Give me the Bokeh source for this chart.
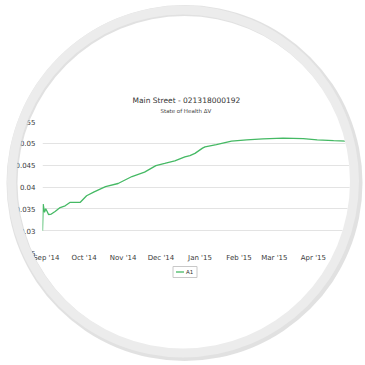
from datetime import datetime, timedelta

from bokeh.plotting import figure
from bokeh.core.properties import value
from bokeh.models import (Range1d, FixedTicker, NumeralTickFormatter, DatetimeTickFormatter,
                          MonthsTicker, Title, ColumnDataSource)
from bokeh.embed import file_html
from bokeh.resources import INLINE

# ---------------- data ----------------
dates = [
    "2014-08-29 00:00", "2014-08-29 13:00", "2014-08-30 14:00", "2014-08-31 14:00",
    "2014-09-01 17:00", "2014-09-02 19:00", "2014-09-05", "2014-09-08", "2014-09-12",
    "2014-09-16", "2014-09-20", "2014-09-28", "2014-10-03", "2014-10-09", "2014-10-18",
    "2014-10-28", "2014-11-08", "2014-11-18", "2014-11-27", "2014-12-04", "2014-12-12",
    "2014-12-20", "2014-12-24", "2014-12-28", "2015-01-03", "2015-01-05", "2015-01-14",
    "2015-01-26", "2015-02-07", "2015-02-20", "2015-03-08", "2015-03-24", "2015-04-04",
    "2015-04-17", "2015-04-27", "2015-05-10",
]
soh_dv = [
    0.0300, 0.0361, 0.0342, 0.0350,
    0.0344, 0.0337, 0.0338, 0.0344, 0.0353,
    0.0357, 0.0365, 0.0365, 0.0380, 0.0389, 0.0401,
    0.0408, 0.0424, 0.0434, 0.0449, 0.0454, 0.0460,
    0.0469, 0.0472, 0.0477, 0.0489, 0.0492, 0.0497,
    0.0505, 0.0508, 0.0510, 0.0512, 0.0511, 0.0508,
    0.0506, 0.0505, 0.0504,
]
series_name = "A1"
title_text = "Main Street - 021318000192"
subtitle_text = "State of Health \u0394V"
y_ticks = [0.025, 0.03, 0.035, 0.04, 0.045, 0.05, 0.055]
y_min, y_max = 0.025, 0.055
x_start = datetime(2014, 8, 29)
x_end = x_start + timedelta(days=256.35)

LINE_COLOR = "#45b964"
FONT = "DejaVu Sans"

src = ColumnDataSource(dict(date=[datetime.fromisoformat(d) for d in dates], v=soh_dv))

p = figure(frame_width=323, frame_height=131, x_axis_type="datetime",
           x_range=Range1d(x_start, x_end), y_range=Range1d(y_min, y_max),
           output_backend="svg", toolbar_location=None, title=None,
           min_border_left=42, min_border_right=0, min_border_top=121, min_border_bottom=113)
p.outline_line_color = None
p.background_fill_color = "white"
p.border_fill_color = "white"

line_r = p.line("date", "v", source=src, line_color=LINE_COLOR, line_width=1.3)

# axes
p.yaxis.ticker = FixedTicker(ticks=y_ticks)
p.yaxis.formatter = NumeralTickFormatter(format="0.[000]")
p.yaxis.axis_line_color = None
p.yaxis.major_tick_line_color = None
p.yaxis.minor_tick_line_color = None
p.yaxis.major_tick_out = 0
p.yaxis.major_tick_in = 0
p.yaxis.minor_tick_out = 0
p.yaxis.major_label_text_font_size = "7px"
p.yaxis.major_label_text_font = FONT
p.yaxis.major_label_text_color = "#3a3a3a"
p.yaxis.major_label_standoff = 7

p.xaxis.ticker = MonthsTicker(months=list(range(12)))
p.xaxis.formatter = DatetimeTickFormatter(months="%b '%y", days="%b '%y")
p.xaxis.axis_line_color = None
p.xaxis.major_tick_line_color = None
p.xaxis.minor_tick_line_color = None
p.xaxis.major_tick_out = 0
p.xaxis.major_tick_in = 0
p.xaxis.minor_tick_out = 0
p.xaxis.major_label_text_font_size = "7px"
p.xaxis.major_label_text_font = FONT
p.xaxis.major_label_text_color = "#3a3a3a"
p.xaxis.major_label_standoff = 1

p.xgrid.grid_line_color = None
p.ygrid.grid_line_color = "#e3e3e3"
p.ygrid.grid_line_width = 1

# titles
sub = Title(text=subtitle_text, align="left", offset=118, text_font_size="5.5px",
            text_font_style="normal", text_color="#444444", text_font=FONT, standoff=15)
main = Title(text=title_text, align="left", offset=90, text_font_size="7.5px",
             text_font_style="normal", text_color="#333333", text_font=FONT, standoff=-12)
p.add_layout(sub, "above")
p.add_layout(main, "above")

# canvas-pixel ranges (x from the left edge, y upward from the bottom edge) for the
# decorations that lie outside the plot frame: legend box and the round frame
p.extra_x_ranges = {"px": Range1d(42, 365)}
p.extra_y_ranges = {"py": Range1d(113, 244)}
deco = dict(x_range_name="px", y_range_name="py", level="overlay")

# legend ("— A1") below the x axis
p.rect(x=[184.5], y=[93.5], width=24, height=11, fill_color="white",
       line_color="#c8c8c8", line_width=1, **deco)
p.segment(x0=[175.5], y0=[93.5], x1=[183.5], y1=[93.5], line_color=LINE_COLOR,
          line_width=1.3, **deco)
p.text(x=[185.5], y=[93.5], text=[series_name], text_font=value(FONT),
       text_font_size="5.5px", text_color="#333333", text_baseline="middle",
       text_align="left", **deco)

# round frame: white outside, light grey ring with a soft shadow
circle_cx, circle_cy = [182.5], [184.0]
p.annulus(x=circle_cx, y=circle_cy, inner_radius=167, outer_radius=700, fill_color="white",
          line_color=None, **deco)
p.annulus(x=[circle_cx[0] + 1.5], y=[circle_cy[0] - 1.5], inner_radius=167, outer_radius=178,
          fill_color="#c8c8c8", fill_alpha=0.55, line_color=None, **deco)
p.annulus(x=circle_cx, y=circle_cy, inner_radius=167, outer_radius=176, fill_color="#ececec",
          line_color=None, **deco)

open("out.html", "w").write(file_html(p, INLINE))
